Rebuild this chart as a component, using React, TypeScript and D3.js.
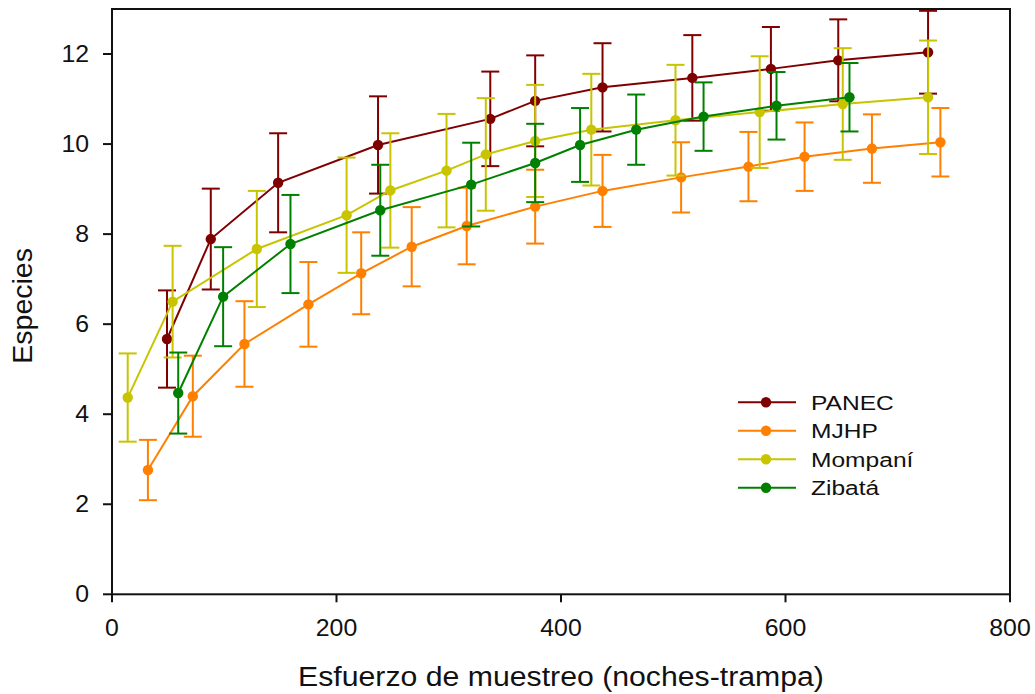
import React from "react";
import * as d3 from "d3";

// Species accumulation by sampling effort, per site (mean ± error)
const seriesNames = ["PANEC", "MJHP", "Mompaní", "Zibatá"];
const seriesColors = ["#7f0000", "#ff8000", "#c8c400", "#008000"];

const panecX = [49, 88, 148, 237, 337, 377, 437, 517, 587, 647, 727];
const panecY = [5.67, 7.89, 9.14, 9.98, 10.56, 10.96, 11.26, 11.47, 11.67, 11.86, 12.04];
const panecErr = [1.08, 1.12, 1.1, 1.08, 1.05, 1.01, 0.98, 0.95, 0.93, 0.91, 0.92];

const mjhpX = [32, 72, 118, 175, 222, 267, 316, 377, 437, 507, 567, 617, 677, 738];
const mjhpY = [2.76, 4.4, 5.56, 6.44, 7.13, 7.72, 8.18, 8.61, 8.96, 9.26, 9.5, 9.72, 9.9, 10.04];
const mjhpErr = [0.67, 0.9, 0.95, 0.94, 0.91, 0.88, 0.85, 0.82, 0.8, 0.78, 0.77, 0.76, 0.76, 0.76];

const mompaniX = [14, 54, 129, 209, 248, 298, 333, 377, 427, 502, 577, 651, 727];
const mompaniY = [4.37, 6.5, 7.67, 8.42, 8.97, 9.41, 9.77, 10.07, 10.32, 10.53, 10.71, 10.89, 11.04];
const mompaniErr = [0.98, 1.24, 1.29, 1.28, 1.27, 1.26, 1.25, 1.245, 1.24, 1.23, 1.24, 1.24, 1.26];

const zibataX = [59, 99, 159, 239, 320, 377, 417, 467, 527, 592, 657];
const zibataY = [4.47, 6.61, 7.78, 8.53, 9.1, 9.58, 9.98, 10.32, 10.61, 10.85, 11.04];
const zibataErr = [0.9, 1.1, 1.09, 1.01, 0.93, 0.87, 0.82, 0.78, 0.76, 0.75, 0.76];

const xTicks = [0, 200, 400, 600, 800];
const yTicks = [0, 2, 4, 6, 8, 10, 12];

const xTitle = "Esfuerzo de muestreo (noches-trampa)";
const yTitle = "Especies";

const W = 1035;
const H = 694;
const FONT = "'Liberation Sans', Arial, sans-serif";

type Pt = { x: number; y: number; e: number };

function zip(xs: number[], ys: number[], es: number[]): Pt[] {
  return xs.map((x, i) => ({ x, y: ys[i], e: es[i] }));
}

const series = [
  zip(panecX, panecY, panecErr),
  zip(mjhpX, mjhpY, mjhpErr),
  zip(mompaniX, mompaniY, mompaniErr),
  zip(zibataX, zibataY, zibataErr),
];

export default function App() {
  const x = d3.scaleLinear().domain([0, 800]).range([112, 1010]);
  const y = d3.scaleLinear().domain([0, 13]).range([594.3, 9]);
  const line = d3
    .line<Pt>()
    .x((d) => x(d.x))
    .y((d) => y(d.y));

  const [x0, x1] = x.range();
  const [y0, y1] = y.range();
  const cap = 9;

  return (
    <svg
      width={W}
      height={H}
      style={{ position: "absolute", left: 0, top: 0, background: "#fff" }}
      fontFamily={FONT}
    >
      {/* series: lines, error bars, markers */}
      {series.map((pts, si) => {
        const c = seriesColors[si];
        return (
          <g key={si}>
            <path d={line(pts) || ""} fill="none" stroke={c} strokeWidth={2} />
            {pts.map((d, i) => {
              const cx = x(d.x);
              const top = y(d.y + d.e);
              const bot = y(d.y - d.e);
              return (
                <g key={i} stroke={c} strokeWidth={2}>
                  <line x1={cx} x2={cx} y1={top} y2={bot} />
                  <line x1={cx - cap} x2={cx + cap} y1={top} y2={top} />
                  <line x1={cx - cap} x2={cx + cap} y1={bot} y2={bot} />
                </g>
              );
            })}
            {pts.map((d, i) => (
              <circle key={"m" + i} cx={x(d.x)} cy={y(d.y)} r={5.2} fill={c} />
            ))}
          </g>
        );
      })}

      {/* frame */}
      <rect
        x={x0}
        y={y1}
        width={x1 - x0}
        height={y0 - y1}
        fill="none"
        stroke="#111"
        strokeWidth={2}
      />

      {/* x axis */}
      {xTicks.map((t) => (
        <g key={"xt" + t}>
          <line x1={x(t)} x2={x(t)} y1={y0} y2={y0 + 8} stroke="#111" strokeWidth={2} />
          <text
            transform={`translate(${x(t)},636) scale(1.08,1)`}
            textAnchor="middle"
            fontSize={23}
            fill="#111"
          >
            {t}
          </text>
        </g>
      ))}

      {/* y axis */}
      {yTicks.map((t) => (
        <g key={"yt" + t}>
          <line x1={x0 - 9} x2={x0} y1={y(t)} y2={y(t)} stroke="#111" strokeWidth={2} />
          <text
            transform={`translate(89,${y(t)}) scale(1.08,1)`}
            textAnchor="end"
            dominantBaseline="central"
            fontSize={23}
            fill="#111"
          >
            {t}
          </text>
        </g>
      ))}

      {/* axis titles */}
      <text
        transform={`translate(${(x0 + x1) / 2},686) scale(1.12,1)`}
        textAnchor="middle"
        fontSize={27}
        fill="#111"
      >
        {xTitle}
      </text>
      <text
        transform={`translate(31.5,${(246.7 + 365) / 2}) rotate(-90)`}
        textAnchor="middle"
        fontSize={28.5}
        fill="#111"
      >
        {yTitle}
      </text>

      {/* legend */}
      {seriesNames.map((name, i) => {
        const ly = 402.3 + i * 28.5;
        const c = seriesColors[i];
        return (
          <g key={name}>
            <line x1={738} x2={796} y1={ly} y2={ly} stroke={c} strokeWidth={2} />
            <circle cx={766} cy={ly} r={5.2} fill={c} />
            <text
              transform={`translate(811,${ly}) scale(1.17,1)`}
              dominantBaseline="central"
              fontSize={21}
              fill="#111"
            >
              {name}
            </text>
          </g>
        );
      })}
    </svg>
  );
}
